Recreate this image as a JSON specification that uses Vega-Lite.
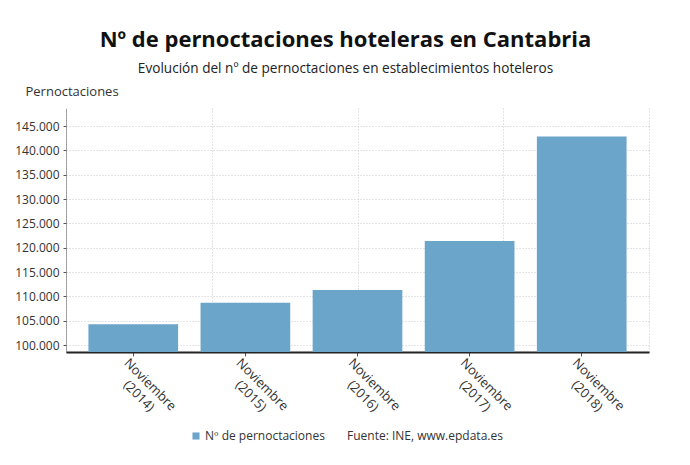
{
  "$schema": "https://vega.github.io/schema/vega-lite/v6.json",
  "width": 583,
  "height": 244,
  "autosize": "none",
  "padding": {"left": 66, "top": 108, "right": 41, "bottom": 113},
  "config": {
    "font": "Open Sans",
    "locale": {"number": {"decimal": ",", "thousands": ".", "grouping": [3], "currency": ["", " €"]}},
    "view": {"stroke": null}
  },
  "title": {
    "text": "Nº de pernoctaciones hoteleras en Cantabria",
    "subtitle": "Evolución del nº de pernoctaciones en establecimientos hoteleros",
    "anchor": "middle",
    "frame": "group",
    "dx": -12,
    "offset": 8,
    "fontSize": 22,
    "fontWeight": "bold",
    "color": "#111111",
    "subtitleFontSize": 13.6,
    "subtitleColor": "#222222",
    "subtitlePadding": 10
  },
  "data": {
    "values": [
      {"periodo": "Noviembre (2014)", "pernoctaciones": 104300, "serie": "Nº de pernoctaciones"},
      {"periodo": "Noviembre (2015)", "pernoctaciones": 108700, "serie": "Nº de pernoctaciones"},
      {"periodo": "Noviembre (2016)", "pernoctaciones": 111350, "serie": "Nº de pernoctaciones"},
      {"periodo": "Noviembre (2017)", "pernoctaciones": 121400, "serie": "Nº de pernoctaciones"},
      {"periodo": "Noviembre (2018)", "pernoctaciones": 142850, "serie": "Nº de pernoctaciones"}
    ]
  },
  "layer": [
    {
      "mark": {"type": "point", "opacity": 0},
      "encoding": {
        "x": {
          "datum": 0,
          "type": "quantitative",
          "scale": {"domain": [0, 4], "nice": false, "zero": false},
          "axis": {
            "orient": "top",
            "values": [0, 1, 2, 3, 4],
            "labels": false,
            "ticks": false,
            "domain": false,
            "grid": true,
            "gridColor": "#c8c8c8",
            "gridDash": [1, 2],
            "title": null
          }
        }
      }
    },
    {
      "mark": {"type": "bar", "clip": true},
      "encoding": {
        "x": {
          "field": "periodo",
          "type": "nominal",
          "sort": null,
          "scale": {"paddingInner": 0.2, "paddingOuter": 0.2},
          "axis": {
            "title": null,
            "grid": false,
            "domainColor": "#222222",
            "domainWidth": 2,
            "tickColor": "#555555",
            "tickSize": 4,
            "labelAngle": 45,
            "labelAlign": "center",
            "labelBaseline": "top",
            "labelOffset": 21,
            "labelPadding": 24,
            "labelFontSize": 13,
            "labelLineHeight": 16,
            "labelColor": "#333333",
            "labelOverlap": false,
            "labelBound": false,
            "labelExpr": "split(datum.label, ' ')"
          }
        },
        "y": {
          "field": "pernoctaciones",
          "type": "quantitative",
          "scale": {"domain": [98600, 148700], "nice": false, "zero": false},
          "axis": {
            "values": [100000, 105000, 110000, 115000, 120000, 125000, 130000, 135000, 140000, 145000],
            "format": ",d",
            "labelFontSize": 12,
            "labelColor": "#333333",
            "labelPadding": 4,
            "tickSize": 3,
            "tickColor": "#555555",
            "domainColor": "#555555",
            "domainDash": [1, 1],
            "grid": true,
            "gridColor": "#c8c8c8",
            "gridDash": [1, 2],
            "title": "Pernoctaciones",
            "titleAngle": 0,
            "titleAlign": "left",
            "titleBaseline": "alphabetic",
            "titleX": -41,
            "titleY": -13,
            "titleFontSize": 13,
            "titleFontWeight": "normal",
            "titleColor": "#333333"
          }
        },
        "color": {
          "field": "serie",
          "type": "nominal",
          "scale": {"range": ["#6ba5ca"]},
          "legend": {
            "orient": "none",
            "legendX": 124,
            "legendY": 322,
            "direction": "horizontal",
            "title": "Fuente: INE, www.epdata.es",
            "titleOrient": "right",
            "titlePadding": 22,
            "titleFontSize": 12,
            "titleFontWeight": "normal",
            "titleColor": "#333333",
            "labelFontSize": 12,
            "labelColor": "#333333",
            "labelOffset": 3,
            "symbolType": "square",
            "symbolSize": 50,
            "symbolStrokeWidth": 0
          }
        }
      }
    }
  ],
  "resolve": {"scale": {"x": "independent"}}
}
